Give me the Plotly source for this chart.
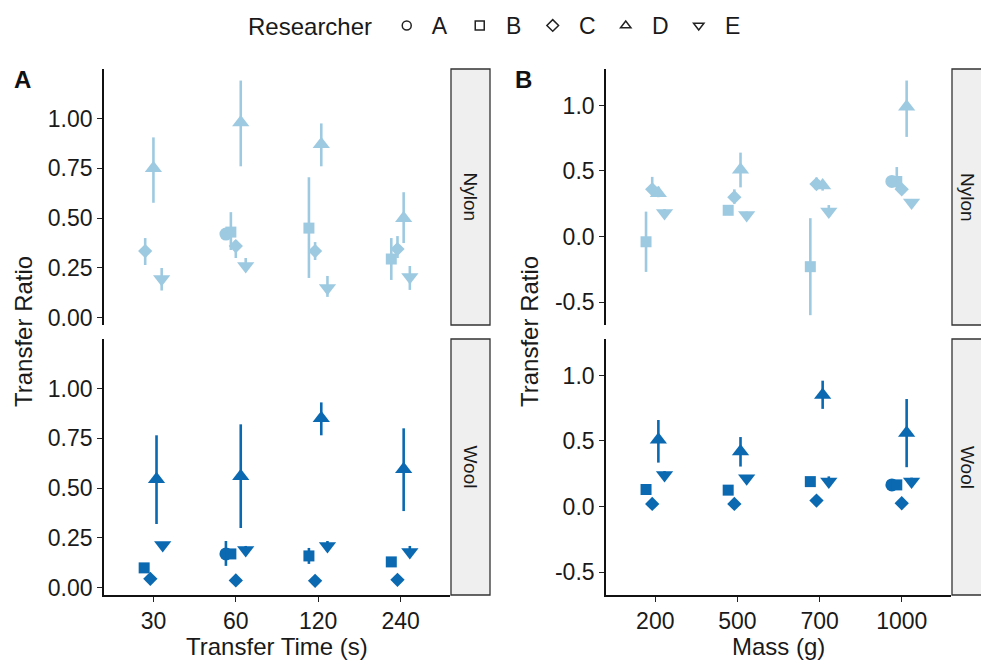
import plotly.graph_objects as go

W, H = 989, 662
FONT = "Liberation Sans, Arial, Helvetica, sans-serif"

researchers = ["A", "B", "C", "D", "E"]
symbol_of = {"A": "circle", "B": "square", "C": "diamond", "D": "triangle-up", "E": "triangle-down"}
size_of = {"A": 13, "B": 11, "C": 11, "D": 15, "E": 15}

time_labels = ["30", "60", "120", "240"]
mass_labels = ["200", "500", "700", "1000"]
fabrics = ["Nylon", "Wool"]
fabric_colors = {"Nylon": "#9ECAE1", "Wool": "#0A69B0"}

# ---- Panel A : Transfer Time ----
time_nylon_mean = {"A": [None, 0.42, None, None],
                   "B": [None, 0.43, 0.45, 0.295],
                   "C": [0.335, 0.36, 0.335, 0.345],
                   "D": [0.75, 0.98, 0.87, 0.50],
                   "E": [0.195, 0.26, 0.15, 0.205]}
time_nylon_low = {"A": [None, 0.42, None, None],
                  "B": [None, 0.34, 0.20, 0.19],
                  "C": [0.265, 0.30, 0.29, 0.30],
                  "D": [0.577, 0.76, 0.76, 0.375],
                  "E": [0.137, 0.24, 0.105, 0.14]}
time_nylon_high = {"A": [None, 0.42, None, None],
                   "B": [None, 0.53, 0.705, 0.40],
                   "C": [0.40, 0.39, 0.38, 0.41],
                   "D": [0.905, 1.19, 0.975, 0.63],
                   "E": [0.25, 0.30, 0.21, 0.26]}

time_wool_mean = {"A": [None, 0.17, None, None],
                  "B": [0.10, 0.17, 0.16, 0.13],
                  "C": [0.045, 0.037, 0.035, 0.04],
                  "D": [0.545, 0.56, 0.85, 0.595],
                  "E": [0.215, 0.19, 0.21, 0.18]}
time_wool_low = {"A": [None, 0.11, None, None],
                 "B": [0.09, 0.15, 0.12, 0.12],
                 "C": [0.045, 0.037, 0.035, 0.04],
                 "D": [0.32, 0.30, 0.765, 0.385],
                 "E": [0.215, 0.19, 0.21, 0.18]}
time_wool_high = {"A": [None, 0.235, None, None],
                  "B": [0.11, 0.19, 0.20, 0.14],
                  "C": [0.045, 0.037, 0.035, 0.04],
                  "D": [0.765, 0.82, 0.93, 0.80],
                  "E": [0.23, 0.21, 0.235, 0.21]}

# ---- Panel B : Mass ----
mass_nylon_mean = {"A": [None, None, None, 0.42],
                   "B": [-0.04, 0.20, -0.23, 0.42],
                   "C": [0.36, 0.30, 0.40, 0.36],
                   "D": [0.33, 0.51, 0.39, 0.99],
                   "E": [0.18, 0.165, 0.19, 0.26]}
mass_nylon_low = {"A": [None, None, None, 0.42],
                  "B": [-0.27, 0.17, -0.60, 0.36],
                  "C": [0.33, 0.25, 0.36, 0.33],
                  "D": [0.30, 0.375, 0.35, 0.76],
                  "E": [0.15, 0.14, 0.15, 0.24]}
mass_nylon_high = {"A": [None, None, None, 0.42],
                   "B": [0.19, 0.22, 0.14, 0.53],
                   "C": [0.455, 0.36, 0.45, 0.40],
                   "D": [0.38, 0.64, 0.42, 1.19],
                   "E": [0.21, 0.19, 0.24, 0.28]}

mass_wool_mean = {"A": [None, None, None, 0.165],
                  "B": [0.13, 0.125, 0.19, 0.165],
                  "C": [0.02, 0.02, 0.045, 0.025],
                  "D": [0.51, 0.42, 0.85, 0.56],
                  "E": [0.24, 0.215, 0.19, 0.19]}
mass_wool_low = {"A": [None, None, None, 0.165],
                 "B": [0.13, 0.125, 0.19, 0.165],
                 "C": [0.02, 0.02, 0.045, 0.025],
                 "D": [0.335, 0.305, 0.745, 0.30],
                 "E": [0.24, 0.215, 0.19, 0.19]}
mass_wool_high = {"A": [None, None, None, 0.165],
                  "B": [0.13, 0.125, 0.19, 0.165],
                  "C": [0.02, 0.02, 0.045, 0.025],
                  "D": [0.66, 0.53, 0.96, 0.82],
                  "E": [0.27, 0.24, 0.23, 0.22]}

panels = [
    # (xaxis, yaxis, mean, low, high, fabric)
    ("x", "y", time_nylon_mean, time_nylon_low, time_nylon_high, "Nylon"),
    ("x2", "y2", time_wool_mean, time_wool_low, time_wool_high, "Wool"),
    ("x3", "y3", mass_nylon_mean, mass_nylon_low, mass_nylon_high, "Nylon"),
    ("x4", "y4", mass_wool_mean, mass_wool_low, mass_wool_high, "Wool"),
]

DODGE = 0.3


def dodge_positions(mean):
    xs = {r: [None] * 4 for r in researchers}
    for i in range(4):
        present = [r for r in researchers if mean[r][i] is not None]
        n = len(present)
        for k, r in enumerate(present):
            xs[r][i] = (i + 1) + (k - (n - 1) / 2) * DODGE / n
    return xs


fig = go.Figure()
for xa, ya, mean, low, high, fab in panels:
    xs = dodge_positions(mean)
    col = fabric_colors[fab]
    for r in researchers:
        px, py, plus, minus = [], [], [], []
        for i in range(4):
            if mean[r][i] is None:
                continue
            px.append(xs[r][i])
            py.append(mean[r][i])
            hi = high[r][i] if high[r][i] is not None else mean[r][i]
            lo = low[r][i] if low[r][i] is not None else mean[r][i]
            plus.append(max(hi - mean[r][i], 0))
            minus.append(max(mean[r][i] - lo, 0))
        if not px:
            continue
        fig.add_trace(go.Scatter(
            x=px, y=py, xaxis=xa, yaxis=ya, mode="markers",
            marker=dict(symbol=symbol_of[r], size=size_of[r], color=col, line=dict(width=0)),
            error_y=dict(type="data", symmetric=False, array=plus, arrayminus=minus,
                         color=col, thickness=2.6, width=0),
            showlegend=False, hoverinfo="skip"))

# legend entries
for r in researchers:
    fig.add_trace(go.Scatter(
        x=[None], y=[None], mode="markers", name=" " + r,
        marker=dict(symbol=symbol_of[r] + "-open", size=9, color="#222222",
                    line=dict(width=1.5, color="#222222")),
        showlegend=True))

# the page body adds an 8px margin; lay out in window pixels by compensating
OFF = 8


def fx(p):
    return (p - OFF) / W


def fy(p):
    return 1 - (p - OFF) / H


xA = [fx(104), fx(450)]
xB = [fx(606), fx(951)]
yN = [fy(325), fy(69)]
yW = [fy(595), fy(339)]

tick_font = dict(family=FONT, size=23, color="#1a1a1a")
common_x = dict(range=[0.4, 4.6], tickvals=[1, 2, 3, 4], showgrid=False, zeroline=False,
                ticks="outside", ticklen=5, tickwidth=1.3, tickcolor="#222",
                linecolor="#111", linewidth=1.6, tickfont=tick_font, fixedrange=True,
                automargin=False)
common_y = dict(showgrid=False, zeroline=False, ticks="outside", ticklen=5, tickwidth=1.3,
                tickcolor="#222", showline=True, linecolor="#111", linewidth=1.6,
                tickfont=tick_font, fixedrange=True, automargin=False)

yA_range = [-0.036, 1.248]
yB_range = [-0.675, 1.278]

fig.update_layout(
    width=W, height=H, margin=dict(l=0, r=0, t=0, b=0, autoexpand=False),
    paper_bgcolor="white", plot_bgcolor="white",
    font=dict(family=FONT, color="#1a1a1a"),
    xaxis=dict(common_x, domain=xA, anchor="y", showline=False, ticks="", showticklabels=False,
               ticktext=time_labels),
    xaxis2=dict(common_x, domain=xA, anchor="y2", showline=True, ticktext=time_labels),
    xaxis3=dict(common_x, domain=xB, anchor="y3", showline=False, ticks="", showticklabels=False,
                ticktext=mass_labels),
    xaxis4=dict(common_x, domain=xB, anchor="y4", showline=True, ticktext=mass_labels),
    yaxis=dict(common_y, domain=yN, anchor="x", range=yA_range,
               tickvals=[0, 0.25, 0.5, 0.75, 1.0], ticktext=["0.00", "0.25", "0.50", "0.75", "1.00"]),
    yaxis2=dict(common_y, domain=yW, anchor="x2", range=yA_range,
                tickvals=[0, 0.25, 0.5, 0.75, 1.0], ticktext=["0.00", "0.25", "0.50", "0.75", "1.00"]),
    yaxis3=dict(common_y, domain=yN, anchor="x3", range=yB_range,
                tickvals=[-0.5, 0, 0.5, 1.0], ticktext=["-0.5", "0.0", "0.5", "1.0"]),
    yaxis4=dict(common_y, domain=yW, anchor="x4", range=yB_range,
                tickvals=[-0.5, 0, 0.5, 1.0], ticktext=["-0.5", "0.0", "0.5", "1.0"]),
    legend=dict(orientation="h", x=fx(246), xanchor="left", y=fy(4), yanchor="top",
                title=dict(text="Researcher ", font=dict(family=FONT, size=24, color="#1a1a1a"), side="left"),
                font=dict(family=FONT, size=23, color="#1a1a1a"),
                entrywidth=28, entrywidthmode="pixels", itemclick=False, itemdoubleclick=False,
                bgcolor="rgba(0,0,0,0)"),
)


def label(xp, yp, text, size, angle=0, color="#1a1a1a"):
    fig.add_annotation(xref="paper", yref="paper", x=fx(xp), y=fy(yp), text=text,
                       xanchor="center", yanchor="middle", textangle=angle, showarrow=False,
                       font=dict(family=FONT, size=size, color=color))


# x titles
label(277, 646, "Transfer Time (s)", 24)
label(778, 646, "Mass (g)", 24)

# strips
strips = [(451, 490, 69, 325, "Nylon"), (451, 490, 339, 595, "Wool"),
          (952, 1000, 69, 325, "Nylon"), (952, 1000, 339, 595, "Wool")]
for x0, x1, y0, y1, lab in strips:
    fig.add_shape(type="rect", xref="paper", yref="paper", x0=fx(x0), x1=fx(x1), y0=fy(y1), y1=fy(y0),
                  fillcolor="#EFEFEF", line=dict(color="#333333", width=1.3), layer="below")
    cx = 968 if x1 > W else (x0 + x1) / 2
    label(cx, (y0 + y1) / 2, lab, 19, angle=90)

# y titles
label(24, 332, "Transfer Ratio", 24, angle=-90)
label(530, 332, "Transfer Ratio", 24, angle=-90)

# panel letters
label(22, 80, "<b>A</b>", 24, color="#111111")
label(523, 80, "<b>B</b>", 24, color="#111111")

fig.write_html("out.html")
